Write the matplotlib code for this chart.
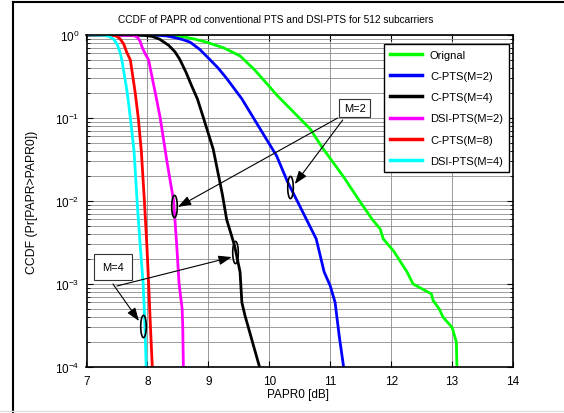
import matplotlib
matplotlib.use("Agg")
import matplotlib.pyplot as plt
import numpy as np
from matplotlib.path import Path
from matplotlib.lines import Line2D

# ---- data ----
orig_x = [7.0, 8.0, 8.3, 8.45, 8.6, 8.78, 8.97, 9.25, 9.52, 9.76, 10.0, 10.12, 10.67, 10.88,
          11.21, 11.49, 11.69, 11.82, 11.87, 12.04, 12.26, 12.36, 12.66, 12.69, 12.79, 12.85,
          13.0, 13.07, 13.08]
orig_y = [1.0, 1.0, 0.99, 0.975, 0.95, 0.89, 0.82, 0.7, 0.56, 0.38, 0.24, 0.19, 0.074, 0.043,
          0.020, 0.0098, 6e-3, 4.6e-3, 3.5e-3, 2.5e-3, 1.4e-3, 1.0e-3, 7.6e-4, 6.3e-4, 5.0e-4, 4.0e-4,
          3.0e-4, 2.0e-4, 1e-4]

cpts2_x = [7.0, 8.0, 8.2, 8.33, 8.45, 8.58, 8.70, 8.86, 9.02, 9.16, 9.30, 9.55, 9.95, 10.12,
           10.30, 10.5, 10.61, 10.77, 10.9, 11.0, 11.08, 11.15, 11.22]
cpts2_y = [1.0, 1.0, 0.99, 0.97, 0.93, 0.88, 0.82, 0.67, 0.51, 0.40, 0.30, 0.17, 0.056, 0.035,
           0.017, 8.7e-3, 6e-3, 3.5e-3, 1.4e-3, 9.5e-4, 6e-4, 2.3e-4, 1e-4]

cpts4_x = [7.0, 7.8, 7.95, 8.08, 8.2, 8.35, 8.45, 8.53, 8.63, 8.73, 8.82, 8.92, 9.08, 9.23,
           9.30, 9.43, 9.52, 9.55, 9.60, 9.84]
cpts4_y = [1.0, 1.0, 0.99, 0.96, 0.89, 0.75, 0.63, 0.51, 0.36, 0.24, 0.17, 0.1, 0.042, 0.012,
           6e-3, 2.9e-3, 1.4e-3, 6e-4, 4.2e-4, 1e-4]

dsi2_x = [7.0, 7.75, 7.80, 7.84, 7.88, 7.91, 7.96, 8.02, 8.08, 8.13, 8.21, 8.32, 8.43, 8.48,
          8.52, 8.57, 8.58, 8.59]
dsi2_y = [1.0, 0.99, 0.97, 0.93, 0.84, 0.72, 0.6, 0.5, 0.3, 0.2, 0.1, 0.03, 0.01, 3e-3,
          1e-3, 5e-4, 3e-4, 1e-4]

cpts8_x = [7.0, 7.45, 7.50, 7.55, 7.61, 7.66, 7.72, 7.80, 7.85, 7.90, 7.95, 7.99, 8.02, 8.05, 8.08]
cpts8_y = [1.0, 0.99, 0.96, 0.9, 0.78, 0.62, 0.5, 0.2, 0.1, 0.04, 0.01, 3e-3, 1e-3, 3e-4, 1e-4]

dsi4_x = [7.0, 7.3, 7.37, 7.44, 7.5, 7.55, 7.58, 7.67, 7.72, 7.78, 7.83, 7.88, 7.93, 7.96, 7.98]
dsi4_y = [1.0, 0.99, 0.96, 0.9, 0.78, 0.62, 0.5, 0.2, 0.1, 0.04, 0.01, 3e-3, 1e-3, 3e-4, 1e-4]

series = [
    ("Orignal", orig_x, orig_y, "#00ff00"),
    ("C-PTS(M=2)", cpts2_x, cpts2_y, "#0000ff"),
    ("C-PTS(M=4)", cpts4_x, cpts4_y, "#000000"),
    ("DSI-PTS(M=2)", dsi2_x, dsi2_y, "#ff00ff"),
    ("C-PTS(M=8)", cpts8_x, cpts8_y, "#ff0000"),
    ("DSI-PTS(M=4)", dsi4_x, dsi4_y, "#00ffff"),
]

# annotation marks (ellipses on curves) and arrows
ell_x = [10.34, 8.43, 9.43, 7.92]
ell_y = [0.0148, 0.0087, 0.00244, 3.1e-4]
m2_text = (11.40, 0.132)
m4_text = (7.434, 1.6e-3)
m2_arrows = [((11.205, 0.0946), (10.418, 0.016)), ((11.123, 0.1), (8.50, 8.47e-3))]
m4_arrows = [((7.434, 1.0e-3), (7.861, 3.58e-4)), ((7.50, 9.46e-4), (9.385, 2.11e-3))]

plt.rcParams['font.family'] = ['Liberation Sans', 'DejaVu Sans']
plt.rcParams['mathtext.fontset'] = 'custom'
plt.rcParams['mathtext.rm'] = 'Liberation Sans'
plt.rcParams['mathtext.it'] = 'Liberation Sans:italic'
plt.rcParams['mathtext.bf'] = 'Liberation Sans:bold'

W, H = 564, 414
fig = plt.figure(figsize=(W / 100, H / 100), dpi=100)
L, R, T, B = 86.5, 513, 36, 368
ax = fig.add_axes([L / W, 1 - B / H, (R - L) / W, (B - T) / H])

for name, xs, ys, c in series:
    ax.plot(xs, ys, color=c, lw=2.0, label=name, solid_joinstyle='round')

ax.set_yscale('log')
ax.set_xlim(7, 14)
ax.set_ylim(1e-4, 1)
ax.set_xticks(range(7, 15))
ax.xaxis.set_minor_locator(matplotlib.ticker.NullLocator())
ax.grid(True, which='major', color='#8a8a8a', lw=0.6)
ax.grid(True, which='minor', axis='y', color='#8a8a8a', lw=0.6)
ax.set_axisbelow(True)

ax.tick_params(which='both', direction='in', top=True, right=True, labelsize=8.5, color='k')
ax.tick_params(which='major', length=4, width=0.8)
ax.tick_params(which='minor', length=2, width=0.6)
ax.tick_params(axis='x', pad=6)
ax.tick_params(axis='y', pad=5)
for s in ax.spines.values():
    s.set_linewidth(1.2)

ax.set_xlabel("PAPR0 [dB]", fontsize=8.5)
ax.xaxis.set_label_coords((298 - L) / (R - L), (B - 389) / (B - T))
ax.set_ylabel("CCDF (Pr[PAPR>PAPR0])", fontsize=8.8)
ax.yaxis.set_label_coords((38 - L) / (R - L), 0.5)

fig.text(276 / W, 1 - 20 / H, "CCDF of PAPR od conventional PTS and DSI-PTS for 512 subcarriers",
         ha='center', va='center', fontsize=7.3)

leg = ax.legend(loc='upper right', bbox_to_anchor=((509 - L) / (R - L), 1 - (45 - T) / (B - T)),
                borderaxespad=0, fontsize=8, fancybox=False, framealpha=1, edgecolor='k',
                handlelength=2.9, handletextpad=0.7, labelspacing=1.0, borderpad=0.55)
leg.get_frame().set_linewidth(1.0)
for ln in leg.get_lines():
    ln.set_linewidth(2.5)

# ellipse marks
t = np.linspace(0, 2 * np.pi, 60)
ell = Path(np.column_stack([0.25 * np.cos(t), np.sin(t)]))
ax.plot(ell_x, ell_y, ls='none', marker=ell, markersize=16, mfc='none', mec='k', mew=1.2)

arrow = dict(arrowstyle='-|>,head_length=0.5,head_width=0.18', color='k', lw=0.8,
             mutation_scale=16, shrinkA=0, shrinkB=0)
for start, tip in m2_arrows + m4_arrows:
    ax.annotate('', xy=tip, xytext=start, arrowprops=arrow)

ax.text(*m2_text, "M=2", ha='center', va='center', fontsize=8,
        bbox=dict(boxstyle='square,pad=0.4', fc='white', ec='#333333', lw=0.8))
ax.text(*m4_text, "M=4", ha='center', va='center', fontsize=8,
        bbox=dict(boxstyle='square,pad=0.7', fc='white', ec='#333333', lw=0.8))

# outer frame of the figure
fig.add_artist(Line2D([13 / W, 13 / W], [0, 1 - 3 / H], color='k', lw=1.5))
fig.add_artist(Line2D([13 / W, 1], [1 - 3 / H, 1 - 3 / H], color='k', lw=1.5))
fig.add_artist(Line2D([0, 1], [2 / H, 2 / H], color='#dddddd', lw=1.0))

fig.savefig("out.png", dpi=100)
